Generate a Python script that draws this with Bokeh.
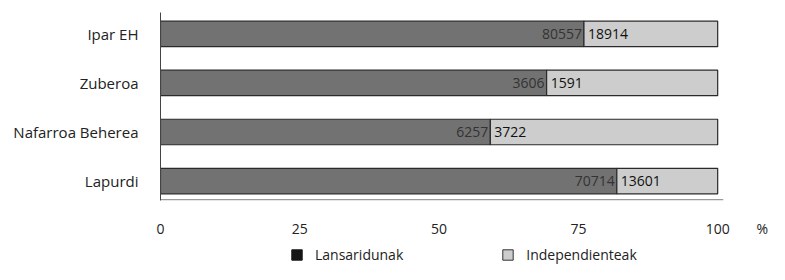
from bokeh.plotting import figure
from bokeh.layouts import column
from bokeh.models import ColumnDataSource, Legend, LegendItem, FixedTicker
from bokeh.embed import file_html
from bokeh.resources import INLINE

# ---- data ----
categories = ["Lapurdi", "Nafarroa Beherea", "Zuberoa", "Ipar EH"]
lansaridunak = [70714, 6257, 3606, 80557]          # printed counts
independienteak = [13601, 3722, 1591, 18914]       # printed counts
lansaridunak_pct = [81.9, 59.2, 69.3, 76.0]        # bar split as drawn (%)
x_ticks = [0, 25, 50, 75, 100]
x_unit = "%"
series_names = ["Lansaridunak", "Independienteak"]

FONT = "Open Sans"
DARK = "#727272"
LIGHT = "#cdcdcd"
X_MAX = 109.3
UNIT_POS = 108.0

ypos = list(range(len(categories)))
src = ColumnDataSource(dict(
    y=ypos,
    zero=[0] * len(categories),
    split=lansaridunak_pct,
    full=[100] * len(categories),
    lab_dark=[str(v) for v in lansaridunak],
    lab_light=[str(v) for v in independienteak],
))

p = figure(x_range=(0, X_MAX), y_range=(-0.397, 3.437), width=769, height=240,
           output_backend="svg", toolbar_location=None,
           min_border_left=160, min_border_right=0, min_border_top=12, min_border_bottom=35)

p.hbar(y="y", left="zero", right="split", height=0.52, source=src,
       fill_color=DARK, line_color="#2a2a2a", line_width=1.2)
p.hbar(y="y", left="split", right="full", height=0.52, source=src,
       fill_color=LIGHT, line_color="#2a2a2a", line_width=1.2)

p.text(x="split", y="y", text="lab_dark", source=src, x_offset=-2,
       text_align="right", text_baseline="middle", text_font_size="14px",
       text_font={"value": FONT}, text_color="#333333")
p.text(x="split", y="y", text="lab_light", source=src, x_offset=4,
       text_align="left", text_baseline="middle", text_font_size="14px",
       text_font={"value": FONT}, text_color="#111111")

# bottom baseline (grey) from 0 to 100
p.segment(x0=[0], x1=[x_ticks[-1] + 1], y0=[-0.38], y1=[-0.38],
          line_color="#9a9a9a", line_width=1.5)

p.xgrid.visible = False
p.ygrid.visible = False
p.outline_line_color = None

p.xaxis.ticker = FixedTicker(ticks=x_ticks + [UNIT_POS])
p.xaxis.major_label_overrides = {UNIT_POS: x_unit}
p.xaxis.major_tick_line_color = None
p.xaxis.major_tick_out = 0
p.xaxis.minor_tick_line_color = None
p.xaxis.axis_line_color = None
p.xaxis.major_label_text_font = FONT
p.xaxis.major_label_text_font_size = "14px"
p.xaxis.major_label_text_color = "#222222"
p.xaxis.major_label_standoff = 18

p.yaxis.ticker = FixedTicker(ticks=ypos)
p.yaxis.major_label_overrides = {i: c for i, c in zip(ypos, categories)}
p.yaxis.major_tick_line_color = None
p.yaxis.major_tick_out = 0
p.yaxis.minor_tick_line_color = None
p.yaxis.axis_line_color = "#444444"
p.yaxis.major_label_text_font = FONT
p.yaxis.major_label_text_font_size = "15px"
p.yaxis.major_label_text_color = "#222222"
p.yaxis.major_label_standoff = 22

# ---- legend strip ----
lg = figure(width=769, height=24, x_range=(0, 1), y_range=(0, 1),
            output_backend="svg", toolbar_location=None,
            min_border=0, min_border_left=0, min_border_right=0,
            min_border_top=0, min_border_bottom=0)
lg.axis.visible = False
lg.grid.visible = False
lg.outline_line_color = None
# proxy bars placed outside the visible range; they only feed the legend swatches
r1 = lg.hbar(y=[-5], left=[0], right=[1], height=0.5, fill_color="#151515", line_color="#151515")
r2 = lg.hbar(y=[-5], left=[0], right=[1], height=0.5, fill_color=LIGHT, line_color="#333333")
legend = Legend(items=[LegendItem(label=series_names[0], renderers=[r1]),
                       LegendItem(label=series_names[1], renderers=[r2])],
                orientation="horizontal", location=(130, 0),
                glyph_width=13, glyph_height=13, label_height=13, spacing=98, label_standoff=12,
                padding=0, margin=0, border_line_color=None, background_fill_alpha=0,
                label_text_font=FONT, label_text_font_size="14px", label_text_color="#222222",
                label_text_line_height=1.0)
lg.add_layout(legend, "center")

layout = column(p, lg, spacing=0)
open("out.html", "w").write(file_html(layout, INLINE))
